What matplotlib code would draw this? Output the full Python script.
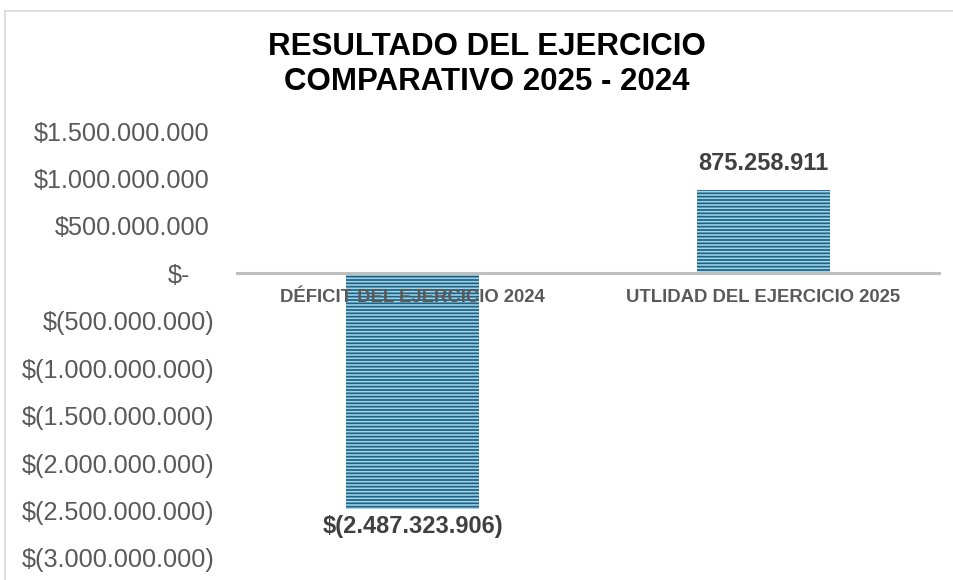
import matplotlib
matplotlib.use("Agg")
import matplotlib.pyplot as plt
from matplotlib.lines import Line2D
from matplotlib.transforms import ScaledTranslation

plt.rcParams['font.family'] = ['Liberation Sans', 'DejaVu Sans']
plt.rcParams['hatch.linewidth'] = 1.15

categories = ["DÉFICIT DEL EJERCICIO 2024", "UTLIDAD DEL EJERCICIO 2025"]
values = [-2487323906, 875258911]
value_labels = ["$(2.487.323.906)", "875.258.911"]
ytick_values = [1.5e9, 1.0e9, 0.5e9, 0, -0.5e9, -1.0e9, -1.5e9, -2.0e9, -2.5e9, -3.0e9]
ytick_labels = ["$1.500.000.000", "$1.000.000.000", "$500.000.000", "$-",
                "$(500.000.000)", "$(1.000.000.000)", "$(1.500.000.000)",
                "$(2.000.000.000)", "$(2.500.000.000)", "$(3.000.000.000)"]
title = "RESULTADO DEL EJERCICIO\nCOMPARATIVO 2025 - 2024"

W, H = 954, 580
fig = plt.figure(figsize=(W / 100, H / 100), dpi=100)
fig.patch.set_facecolor('white')

left, right, top, bottom = 237, 939, 131, 558
ax = fig.add_axes([left / W, 1 - bottom / H, (right - left) / W, (bottom - top) / H])
ax.set_facecolor('none')
ax.set_axisbelow(False)

x = list(range(len(categories)))
bars = ax.bar(x, values, width=0.38, color='#1d6184', edgecolor='#a3d5e8',
              linewidth=0, hatch='-----', zorder=2)

ax.set_xlim(-0.5, len(categories) - 0.5)
ax.set_ylim(-3.0e9, 1.5e9)

for s in ['top', 'right', 'left']:
    ax.spines[s].set_visible(False)
ax.spines['bottom'].set_position(('data', 0))
ax.spines['bottom'].set_color('#bfbfbf')
ax.spines['bottom'].set_linewidth(2.2)
ax.spines['bottom'].set_zorder(3)

ax.set_xticks(x)
ax.set_xticklabels(categories, fontsize=13.3, fontweight='bold', color='#595959')
ax.tick_params(axis='x', length=0, pad=11)

ax.set_yticks(ytick_values)
ax.set_yticklabels(ytick_labels, fontsize=18.2, color='#595959')
ax.tick_params(axis='y', length=0, pad=16)

ticks = ax.yaxis.get_major_ticks()
for v, t in zip(ytick_values, ticks):
    if v > 0:
        dx = -5
    elif v == 0:
        dx = -25
    else:
        dx = 0
    if dx:
        t.label1.set_transform(t.label1.get_transform() +
                               ScaledTranslation(dx / 100, 0, fig.dpi_scale_trans))

for xi, v, lab in zip(x, values, value_labels):
    if v >= 0:
        ax.annotate(lab, (xi, v), xytext=(0, 11), textcoords='offset points',
                    ha='center', va='bottom', fontsize=17, fontweight='bold',
                    color='#404040')
    else:
        ax.annotate(lab, (xi, v), xytext=(0, -4), textcoords='offset points',
                    ha='center', va='top', fontsize=17, fontweight='bold',
                    color='#404040')

fig.text(487 / W, 1 - 64.5 / H, title, ha='center', va='center', fontsize=22.5,
         fontweight='bold', color='black', linespacing=1.22)

# outer chart frame (partially cropped)
fig.add_artist(Line2D([5.5 / W, 5.5 / W], [0, 1 - 10.5 / H], transform=fig.transFigure,
                      color='#d9d9d9', lw=1.2))
fig.add_artist(Line2D([5.5 / W, 953 / W], [1 - 10.5 / H, 1 - 10.5 / H],
                      transform=fig.transFigure, color='#d9d9d9', lw=1.2))

fig.savefig('out.png', dpi=100, facecolor='white')
